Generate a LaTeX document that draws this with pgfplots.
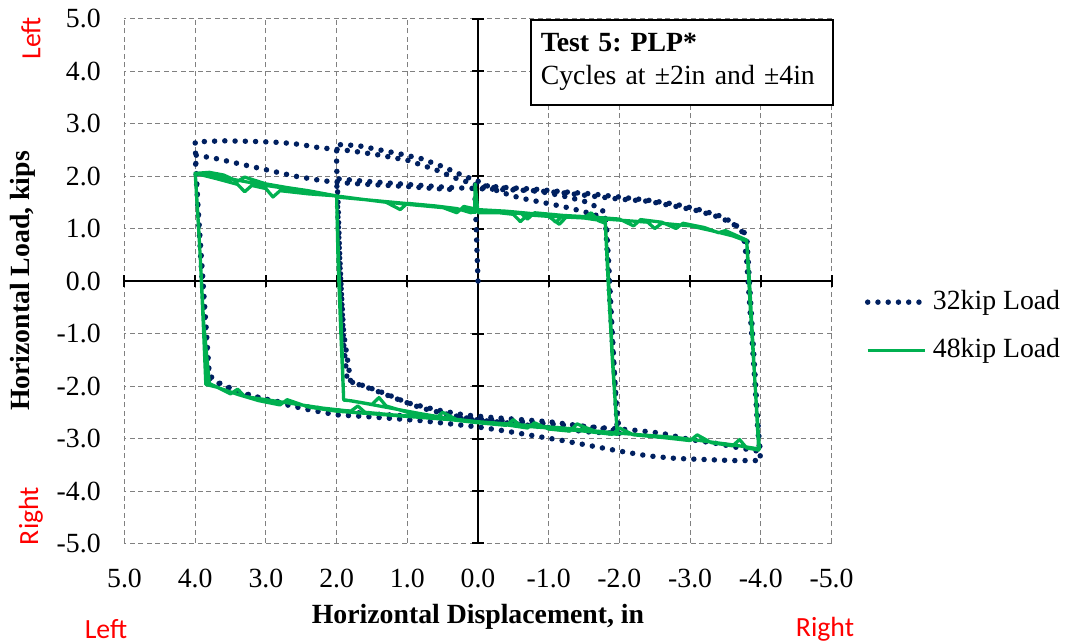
\documentclass[border=0pt]{standalone}
\usepackage{fontspec}
\setmainfont{Liberation Serif}
\newfontfamily\calib{Carlito}
\usepackage{pgfplots}
\pgfplotsset{compat=1.18}
\definecolor{navy}{HTML}{002060}
\definecolor{grn}{HTML}{00B050}
\definecolor{gridgray}{HTML}{808080}
\newcommand{\fs}{\fontsize{11.1}{13.3}\selectfont}
\frenchspacing

\begin{document}
\begin{tikzpicture}
% base axis: grid and tick labels
\begin{axis}[at={(0,0)}, anchor=south west, scale only axis,
  width=282.8pt, height=210pt,
  xmin=-5, xmax=5, ymin=-5, ymax=5, x dir=reverse, enlargelimits=false,
  xtick={-5,-4,...,5}, ytick={-5,-4,...,5},
  grid=major, grid style={gridgray, line width=0.4pt, dash pattern=on 2pt off 1.4pt},
  axis line style={draw=none}, major tick length=0pt,
  /pgf/number format/assume math mode=true,
  tick label style={font=\fs, /pgf/number format/fixed, /pgf/number format/fixed zerofill, /pgf/number format/precision=1},
  xticklabel style={yshift=-6.5pt}, yticklabel style={xshift=-6pt},
]
\end{axis}
% overlay axis: zero lines, ticks, data
\begin{axis}[at={(0,0)}, anchor=south west, scale only axis,
  width=282.8pt, height=210pt,
  xmin=-5, xmax=5, ymin=-5, ymax=5, x dir=reverse, enlargelimits=false,
  clip=false,
  axis lines=middle, axis line style={-, black, line width=0.8pt},
  xtick={-5,-4,...,5}, ytick={-5,-4,...,5},
  xticklabel style={text opacity=0, opacity=0}, yticklabel style={text opacity=0, opacity=0},
  tick align=center, major tick length=4.8pt, tick style={black, line width=0.8pt},
  legend style={at={(1.036,0.414)}, anchor=west, draw=none, fill=none, font=\fs, row sep=6pt},
  legend cell align=left,
  legend image code/.code={\draw[#1] (0pt,0pt) -- (23pt,0pt);},
]
\addplot[navy, no markers, line width=2.2pt, line cap=round, dash pattern=on 0pt off 4.1pt] coordinates {
(0,0) (0.01,0.4) (0.02,0.8) (0.03,1.2) (0.04,1.5) (0.05,1.78)
(-0.3,1.78) (-0.6,1.74) (-0.9,1.7) (-1.2,1.62) (-1.5,1.52) (-1.7,1.4) (-1.8,1.3)
(-1.82,1.0) (-1.85,0.3) (-1.88,-0.5) (-1.92,-1.5) (-1.95,-2.3) (-1.97,-2.85)
(-1.7,-2.8) (-1.4,-2.75) (-1.0,-2.68) (-0.6,-2.64) (-0.2,-2.6) (0.2,-2.55) (0.6,-2.45) (1.0,-2.32) (1.3,-2.15) (1.6,-2.0) (1.85,-1.9)
(1.9,-1.2) (1.93,-0.3) (1.96,0.6) (1.98,1.5) (2.0,2.2) (2.0,2.6)
(1.7,2.58) (1.4,2.5) (1.1,2.42) (0.8,2.33) (0.5,2.18) (0.2,2.0) (0,1.9) (-0.3,1.7) (-0.6,1.58) (-0.9,1.5) (-1.2,1.42) (-1.5,1.32) (-1.8,1.2)
(-1.83,0.5) (-1.87,-0.5) (-1.92,-1.6) (-1.96,-2.4) (-2.0,-2.9)
(-1.6,-2.88) (-1.2,-2.82) (-0.8,-2.76) (-0.4,-2.7) (0,-2.65) (0.4,-2.55) (0.8,-2.42) (1.2,-2.22) (1.5,-2.06) (1.8,-1.92)
(1.9,-1.0) (1.95,0.2) (1.98,1.2) (2.0,1.95)
(1.6,1.9) (1.2,1.86) (0.8,1.82) (0.4,1.78) (0,1.76) (-0.4,1.74) (-0.8,1.72) (-1.2,1.68) (-1.6,1.62) (-2.0,1.56) (-2.4,1.52) (-2.8,1.42) (-3.1,1.34) (-3.4,1.22) (-3.6,1.1) (-3.75,0.92)
(-3.8,0.4) (-3.84,-0.4) (-3.88,-1.2) (-3.92,-2.0) (-3.95,-2.7) (-3.98,-3.2) (-4.0,-3.42)
(-3.6,-3.42) (-3.2,-3.4) (-2.8,-3.38) (-2.4,-3.33) (-2.0,-3.24) (-1.6,-3.14) (-1.2,-3.04) (-0.8,-2.95) (-0.4,-2.86) (0,-2.78) (0.4,-2.72) (0.8,-2.66) (1.2,-2.62) (1.6,-2.58) (2.0,-2.55) (2.4,-2.45) (2.8,-2.33) (3.1,-2.22) (3.4,-2.1) (3.65,-1.95) (3.8,-1.8)
(3.84,-1.0) (3.88,-0.2) (3.92,0.6) (3.96,1.4) (3.99,2.2) (4.0,2.65)
(3.6,2.67) (3.2,2.66) (2.8,2.64) (2.5,2.6) (2.3,2.55) (2.1,2.52)
(1.8,2.48) (1.4,2.4) (1.0,2.3) (0.6,2.12) (0.3,1.95) (0,1.82) (-0.4,1.78) (-0.8,1.75) (-1.2,1.7) (-1.6,1.66) (-2.0,1.6) (-2.4,1.54) (-2.8,1.46) (-3.1,1.37) (-3.4,1.25) (-3.6,1.12) (-3.8,0.88)
(-3.83,0.2) (-3.87,-0.7) (-3.91,-1.6) (-3.95,-2.5) (-3.98,-3.1) (-4.0,-3.25)
(-3.7,-3.18) (-3.4,-3.1) (-3.0,-3.02) (-2.6,-2.9) (-2.2,-2.84) (-1.8,-2.8) (-1.4,-2.76) (-1.0,-2.72) (-0.6,-2.68) (-0.2,-2.65) (0.2,-2.62) (0.6,-2.6) (1.0,-2.57) (1.4,-2.54) (1.8,-2.5) (2.2,-2.44) (2.6,-2.36) (3.0,-2.25) (3.3,-2.15) (3.6,-2.0) (3.8,-1.85)
(3.86,-0.8) (3.92,0.4) (3.97,1.6) (4.0,2.4)
(3.7,2.33) (3.4,2.24) (3.0,2.12) (2.6,2.0) (2.2,1.91) (1.8,1.86) (1.4,1.83) (1.0,1.8) (0.6,1.76) (0.3,1.74)
};
\addlegendentry{32kip Load}
\addplot[grn, no markers, line width=1.3pt, line join=round] coordinates {
(0.05,1.28) (0.04,1.85) (0.0,1.3) (-0.3,1.3) (-0.5,1.27) (-0.6,1.13) (-0.7,1.26) (-1.0,1.23) (-1.15,1.08) (-1.25,1.22) (-1.5,1.2) (-1.6,1.3) (-1.7,1.15) (-1.8,1.1)
(-1.84,0.0) (-1.9,-1.5) (-1.97,-2.92)
(-1.7,-2.88) (-1.5,-2.78) (-1.4,-2.72) (-1.3,-2.86) (-1.0,-2.82) (-0.8,-2.7) (-0.7,-2.8) (-0.4,-2.74) (0,-2.7) (0.3,-2.64) (0.5,-2.5) (0.6,-2.62) (1.0,-2.5) (1.3,-2.38) (1.4,-2.22) (1.5,-2.35) (1.8,-2.28) (1.9,-2.27)
(1.93,-1.0) (1.97,0.3) (2.0,1.6)
(1.6,1.55) (1.3,1.5) (1.1,1.36) (1.0,1.48) (0.6,1.43) (0.3,1.38) (0.1,1.3) (0,1.36) (-0.4,1.31) (-0.8,1.26) (-1.2,1.22) (-1.5,1.2) (-1.8,1.14)
(-1.84,0.2) (-1.9,-1.4) (-1.97,-2.9)
(-1.6,-2.86) (-1.2,-2.82) (-0.8,-2.77) (-0.4,-2.72) (0,-2.68) (0.4,-2.62) (0.8,-2.53) (1.2,-2.43) (1.6,-2.33) (1.9,-2.26)
(1.94,-1.0) (1.98,0.4) (2.0,1.62)
(2.4,1.66) (2.8,1.72) (2.9,1.6) (3.0,1.76) (3.2,1.82) (3.3,1.7) (3.4,1.84) (3.7,1.95) (4.0,2.05)
(3.8,2.07) (3.6,2.02) (3.4,1.9) (3.3,1.98) (3.0,1.85) (2.7,1.78) (2.4,1.72) (2.0,1.62) (1.6,1.55) (1.2,1.5) (0.8,1.45) (0.5,1.4) (0.3,1.3) (0.2,1.42) (0,1.36) (-0.4,1.33) (-0.8,1.28) (-1.0,1.25) (-1.1,1.12) (-1.2,1.25) (-1.6,1.22) (-2.0,1.18) (-2.2,1.05) (-2.3,1.17) (-2.6,1.12) (-2.8,1.0) (-2.9,1.1) (-3.2,1.02) (-3.4,0.92) (-3.5,0.96) (-3.8,0.78)
(-3.84,0.0) (-3.9,-1.5) (-3.97,-3.22)
(-3.8,-3.18) (-3.7,-3.02) (-3.6,-3.14) (-3.3,-3.08) (-3.1,-2.93) (-3.0,-3.04) (-2.6,-2.98) (-2.2,-2.93) (-2.0,-2.8) (-1.9,-2.92) (-1.5,-2.86) (-1.0,-2.8) (-0.6,-2.76) (-0.5,-2.64) (-0.4,-2.75) (0,-2.7) (0.4,-2.64) (0.8,-2.6) (1.2,-2.56) (1.6,-2.52) (2.0,-2.48) (2.4,-2.4) (2.7,-2.26) (2.8,-2.36) (3.1,-2.28) (3.4,-2.16) (3.7,-2.02) (3.85,-1.97)
(3.88,-1.0) (3.93,0.5) (4.0,2.05)
(3.7,2.0) (3.4,1.92) (3.0,1.82) (2.6,1.74) (2.2,1.66) (1.8,1.58) (1.4,1.52) (1.0,1.46) (0.6,1.41) (0.2,1.36) (-0.2,1.33) (-0.6,1.3) (-0.7,1.18) (-0.8,1.3) (-1.2,1.25) (-1.6,1.2) (-2.0,1.16) (-2.4,1.12) (-2.5,1.0) (-2.6,1.1) (-3.0,1.05) (-3.3,0.96) (-3.6,0.86) (-3.8,0.76)
(-3.85,-0.5) (-3.92,-2.0) (-3.98,-3.2)
(-3.6,-3.12) (-3.2,-3.05) (-2.8,-2.98) (-2.4,-2.94) (-2.0,-2.9) (-1.6,-2.85) (-1.2,-2.8) (-0.8,-2.76) (-0.4,-2.72) (0,-2.68) (0.4,-2.63) (0.8,-2.59) (1.2,-2.55) (1.6,-2.5) (1.7,-2.38) (1.8,-2.48) (2.2,-2.42) (2.6,-2.34) (3.0,-2.26) (3.3,-2.2) (3.4,-2.06) (3.5,-2.15) (3.8,-1.95)
(3.88,-0.8) (3.95,1.0) (4.0,2.08)
};
\addlegendentry{48kip Load}
\node[draw=black, line width=0.8pt, fill=white, anchor=north east, align=left,
  text width=113pt, inner xsep=4pt, inner ysep=4pt, minimum height=34pt, font=\fs]
  at (rel axis cs:1.004,1) {\textbf{Test 5: PLP*}\\Cycles at ±2in and ±4in};
\end{axis}
\node[font=\bfseries\fs] at (141.4pt,-29.4pt) {Horizontal Displacement, in};
\node[font=\bfseries\fs, rotate=90] at (-40.6pt,105pt) {Horizontal Load, kips};
\node[font=\calib\fs, text=red, rotate=90] at (-37.4pt,202pt) {Left};
\node[font=\calib\fs, text=red, rotate=90] at (-37.4pt,11pt) {Right};
\node[font=\calib\fs, text=red] at (-7.4pt,-34.2pt) {Left};
\node[font=\calib\fs, text=red] at (280.2pt,-34.2pt) {Right};
\pgfresetboundingbox
\path[use as bounding box] (-49.8pt,-39.4pt) rectangle (381pt,217.4pt);
\end{tikzpicture}
\end{document}
